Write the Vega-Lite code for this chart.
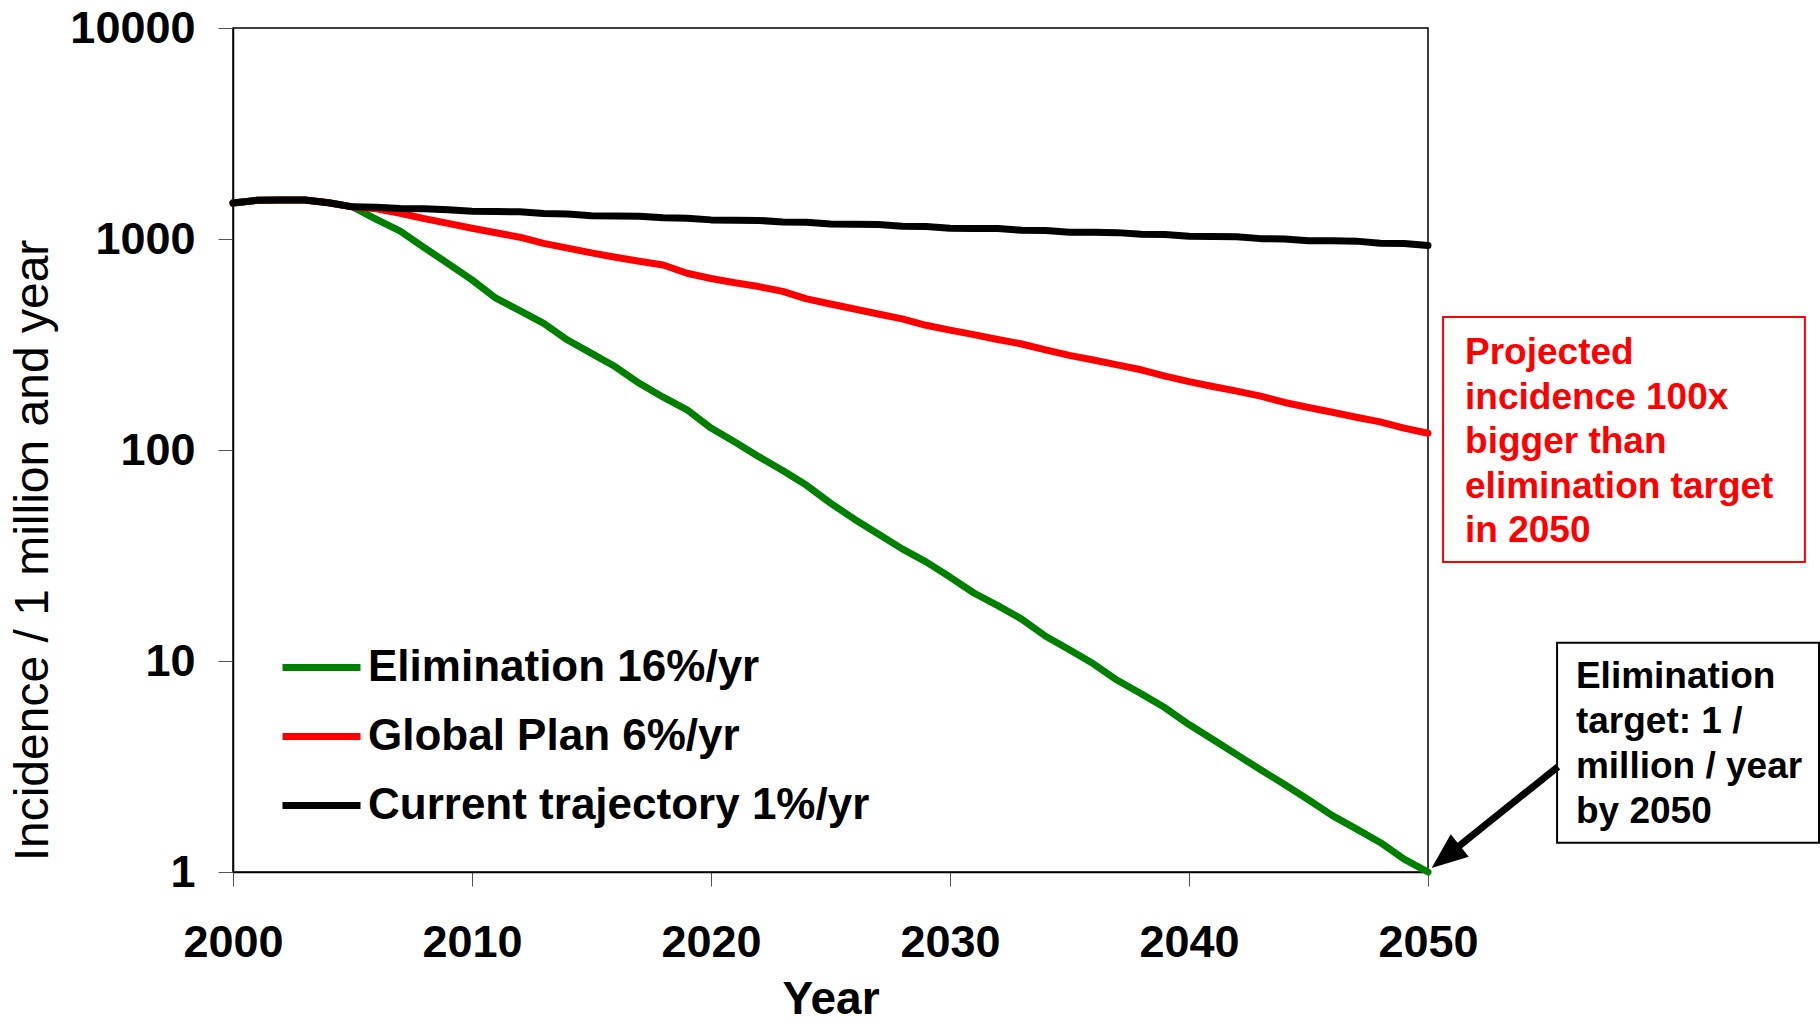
{
  "$schema": "https://vega.github.io/schema/vega-lite/v6.json",
  "width": 1195,
  "height": 844,
  "autosize": {"type": "none"},
  "padding": {"left": 233, "top": 28, "right": 392, "bottom": 151},
  "background": "white",
  "config": {
    "font": "Liberation Sans",
    "view": {"stroke": "black", "strokeWidth": 1.5},
    "axis": {"grid": false, "domainColor": "black", "domainWidth": 1.5, "tickColor": "#555555", "tickWidth": 1, "labelColor": "black", "titleColor": "black", "labelFlush": false, "labelOverlap": false}
  },
  "layer": [
    {
      "data": {
        "values": [
          {"series": "Elimination 16%/yr", "year": 2000, "incidence": 1480},
          {"series": "Elimination 16%/yr", "year": 2001, "incidence": 1525},
          {"series": "Elimination 16%/yr", "year": 2002, "incidence": 1530},
          {"series": "Elimination 16%/yr", "year": 2003, "incidence": 1530},
          {"series": "Elimination 16%/yr", "year": 2004, "incidence": 1485},
          {"series": "Elimination 16%/yr", "year": 2005, "incidence": 1420},
          {"series": "Elimination 16%/yr", "year": 2006, "incidence": 1240},
          {"series": "Elimination 16%/yr", "year": 2007, "incidence": 1090},
          {"series": "Elimination 16%/yr", "year": 2008, "incidence": 910},
          {"series": "Elimination 16%/yr", "year": 2009, "incidence": 765},
          {"series": "Elimination 16%/yr", "year": 2010, "incidence": 640},
          {"series": "Elimination 16%/yr", "year": 2011, "incidence": 524},
          {"series": "Elimination 16%/yr", "year": 2012, "incidence": 458},
          {"series": "Elimination 16%/yr", "year": 2013, "incidence": 398},
          {"series": "Elimination 16%/yr", "year": 2014, "incidence": 332},
          {"series": "Elimination 16%/yr", "year": 2015, "incidence": 287},
          {"series": "Elimination 16%/yr", "year": 2016, "incidence": 248},
          {"series": "Elimination 16%/yr", "year": 2017, "incidence": 207},
          {"series": "Elimination 16%/yr", "year": 2018, "incidence": 178},
          {"series": "Elimination 16%/yr", "year": 2019, "incidence": 155},
          {"series": "Elimination 16%/yr", "year": 2020, "incidence": 127},
          {"series": "Elimination 16%/yr", "year": 2021, "incidence": 109},
          {"series": "Elimination 16%/yr", "year": 2022, "incidence": 93},
          {"series": "Elimination 16%/yr", "year": 2023, "incidence": 80},
          {"series": "Elimination 16%/yr", "year": 2024, "incidence": 68},
          {"series": "Elimination 16%/yr", "year": 2025, "incidence": 56},
          {"series": "Elimination 16%/yr", "year": 2026, "incidence": 47},
          {"series": "Elimination 16%/yr", "year": 2027, "incidence": 40},
          {"series": "Elimination 16%/yr", "year": 2028, "incidence": 34},
          {"series": "Elimination 16%/yr", "year": 2029, "incidence": 29.5},
          {"series": "Elimination 16%/yr", "year": 2030, "incidence": 25},
          {"series": "Elimination 16%/yr", "year": 2031, "incidence": 21},
          {"series": "Elimination 16%/yr", "year": 2032, "incidence": 18.3},
          {"series": "Elimination 16%/yr", "year": 2033, "incidence": 15.8},
          {"series": "Elimination 16%/yr", "year": 2034, "incidence": 13.1},
          {"series": "Elimination 16%/yr", "year": 2035, "incidence": 11.3},
          {"series": "Elimination 16%/yr", "year": 2036, "incidence": 9.7},
          {"series": "Elimination 16%/yr", "year": 2037, "incidence": 8.1},
          {"series": "Elimination 16%/yr", "year": 2038, "incidence": 7.0},
          {"series": "Elimination 16%/yr", "year": 2039, "incidence": 6.0},
          {"series": "Elimination 16%/yr", "year": 2040, "incidence": 5.0},
          {"series": "Elimination 16%/yr", "year": 2041, "incidence": 4.25},
          {"series": "Elimination 16%/yr", "year": 2042, "incidence": 3.6},
          {"series": "Elimination 16%/yr", "year": 2043, "incidence": 3.05},
          {"series": "Elimination 16%/yr", "year": 2044, "incidence": 2.6},
          {"series": "Elimination 16%/yr", "year": 2045, "incidence": 2.2},
          {"series": "Elimination 16%/yr", "year": 2046, "incidence": 1.85},
          {"series": "Elimination 16%/yr", "year": 2047, "incidence": 1.6},
          {"series": "Elimination 16%/yr", "year": 2048, "incidence": 1.38},
          {"series": "Elimination 16%/yr", "year": 2049, "incidence": 1.15},
          {"series": "Elimination 16%/yr", "year": 2050, "incidence": 1.0},
          {"series": "Global Plan 6%/yr", "year": 2000, "incidence": 1480},
          {"series": "Global Plan 6%/yr", "year": 2001, "incidence": 1525},
          {"series": "Global Plan 6%/yr", "year": 2002, "incidence": 1530},
          {"series": "Global Plan 6%/yr", "year": 2003, "incidence": 1530},
          {"series": "Global Plan 6%/yr", "year": 2004, "incidence": 1485},
          {"series": "Global Plan 6%/yr", "year": 2005, "incidence": 1420},
          {"series": "Global Plan 6%/yr", "year": 2006, "incidence": 1390},
          {"series": "Global Plan 6%/yr", "year": 2007, "incidence": 1324},
          {"series": "Global Plan 6%/yr", "year": 2008, "incidence": 1250},
          {"series": "Global Plan 6%/yr", "year": 2009, "incidence": 1185},
          {"series": "Global Plan 6%/yr", "year": 2010, "incidence": 1125},
          {"series": "Global Plan 6%/yr", "year": 2011, "incidence": 1070},
          {"series": "Global Plan 6%/yr", "year": 2012, "incidence": 1020},
          {"series": "Global Plan 6%/yr", "year": 2013, "incidence": 954},
          {"series": "Global Plan 6%/yr", "year": 2014, "incidence": 905},
          {"series": "Global Plan 6%/yr", "year": 2015, "incidence": 860},
          {"series": "Global Plan 6%/yr", "year": 2016, "incidence": 820},
          {"series": "Global Plan 6%/yr", "year": 2017, "incidence": 785},
          {"series": "Global Plan 6%/yr", "year": 2018, "incidence": 753},
          {"series": "Global Plan 6%/yr", "year": 2019, "incidence": 688},
          {"series": "Global Plan 6%/yr", "year": 2020, "incidence": 650},
          {"series": "Global Plan 6%/yr", "year": 2021, "incidence": 620},
          {"series": "Global Plan 6%/yr", "year": 2022, "incidence": 595},
          {"series": "Global Plan 6%/yr", "year": 2023, "incidence": 565},
          {"series": "Global Plan 6%/yr", "year": 2024, "incidence": 520},
          {"series": "Global Plan 6%/yr", "year": 2025, "incidence": 492},
          {"series": "Global Plan 6%/yr", "year": 2026, "incidence": 466},
          {"series": "Global Plan 6%/yr", "year": 2027, "incidence": 441},
          {"series": "Global Plan 6%/yr", "year": 2028, "incidence": 418},
          {"series": "Global Plan 6%/yr", "year": 2029, "incidence": 390},
          {"series": "Global Plan 6%/yr", "year": 2030, "incidence": 370},
          {"series": "Global Plan 6%/yr", "year": 2031, "incidence": 352},
          {"series": "Global Plan 6%/yr", "year": 2032, "incidence": 334},
          {"series": "Global Plan 6%/yr", "year": 2033, "incidence": 318},
          {"series": "Global Plan 6%/yr", "year": 2034, "incidence": 298},
          {"series": "Global Plan 6%/yr", "year": 2035, "incidence": 281},
          {"series": "Global Plan 6%/yr", "year": 2036, "incidence": 267},
          {"series": "Global Plan 6%/yr", "year": 2037, "incidence": 253},
          {"series": "Global Plan 6%/yr", "year": 2038, "incidence": 240},
          {"series": "Global Plan 6%/yr", "year": 2039, "incidence": 224},
          {"series": "Global Plan 6%/yr", "year": 2040, "incidence": 211},
          {"series": "Global Plan 6%/yr", "year": 2041, "incidence": 200},
          {"series": "Global Plan 6%/yr", "year": 2042, "incidence": 190},
          {"series": "Global Plan 6%/yr", "year": 2043, "incidence": 180},
          {"series": "Global Plan 6%/yr", "year": 2044, "incidence": 168},
          {"series": "Global Plan 6%/yr", "year": 2045, "incidence": 159},
          {"series": "Global Plan 6%/yr", "year": 2046, "incidence": 151},
          {"series": "Global Plan 6%/yr", "year": 2047, "incidence": 143},
          {"series": "Global Plan 6%/yr", "year": 2048, "incidence": 136},
          {"series": "Global Plan 6%/yr", "year": 2049, "incidence": 127},
          {"series": "Global Plan 6%/yr", "year": 2050, "incidence": 120},
          {"series": "Current trajectory 1%/yr", "year": 2000, "incidence": 1480},
          {"series": "Current trajectory 1%/yr", "year": 2001, "incidence": 1525},
          {"series": "Current trajectory 1%/yr", "year": 2002, "incidence": 1530},
          {"series": "Current trajectory 1%/yr", "year": 2003, "incidence": 1530},
          {"series": "Current trajectory 1%/yr", "year": 2004, "incidence": 1485},
          {"series": "Current trajectory 1%/yr", "year": 2005, "incidence": 1420},
          {"series": "Current trajectory 1%/yr", "year": 2006, "incidence": 1415},
          {"series": "Current trajectory 1%/yr", "year": 2007, "incidence": 1395},
          {"series": "Current trajectory 1%/yr", "year": 2008, "incidence": 1390},
          {"series": "Current trajectory 1%/yr", "year": 2009, "incidence": 1375},
          {"series": "Current trajectory 1%/yr", "year": 2010, "incidence": 1355},
          {"series": "Current trajectory 1%/yr", "year": 2011, "incidence": 1350},
          {"series": "Current trajectory 1%/yr", "year": 2012, "incidence": 1345},
          {"series": "Current trajectory 1%/yr", "year": 2013, "incidence": 1320},
          {"series": "Current trajectory 1%/yr", "year": 2014, "incidence": 1315},
          {"series": "Current trajectory 1%/yr", "year": 2015, "incidence": 1290},
          {"series": "Current trajectory 1%/yr", "year": 2016, "incidence": 1285},
          {"series": "Current trajectory 1%/yr", "year": 2017, "incidence": 1283},
          {"series": "Current trajectory 1%/yr", "year": 2018, "incidence": 1260},
          {"series": "Current trajectory 1%/yr", "year": 2019, "incidence": 1255},
          {"series": "Current trajectory 1%/yr", "year": 2020, "incidence": 1232},
          {"series": "Current trajectory 1%/yr", "year": 2021, "incidence": 1228},
          {"series": "Current trajectory 1%/yr", "year": 2022, "incidence": 1225},
          {"series": "Current trajectory 1%/yr", "year": 2023, "incidence": 1203},
          {"series": "Current trajectory 1%/yr", "year": 2024, "incidence": 1200},
          {"series": "Current trajectory 1%/yr", "year": 2025, "incidence": 1178},
          {"series": "Current trajectory 1%/yr", "year": 2026, "incidence": 1175},
          {"series": "Current trajectory 1%/yr", "year": 2027, "incidence": 1172},
          {"series": "Current trajectory 1%/yr", "year": 2028, "incidence": 1150},
          {"series": "Current trajectory 1%/yr", "year": 2029, "incidence": 1147},
          {"series": "Current trajectory 1%/yr", "year": 2030, "incidence": 1125},
          {"series": "Current trajectory 1%/yr", "year": 2031, "incidence": 1122},
          {"series": "Current trajectory 1%/yr", "year": 2032, "incidence": 1120},
          {"series": "Current trajectory 1%/yr", "year": 2033, "incidence": 1100},
          {"series": "Current trajectory 1%/yr", "year": 2034, "incidence": 1097},
          {"series": "Current trajectory 1%/yr", "year": 2035, "incidence": 1077},
          {"series": "Current trajectory 1%/yr", "year": 2036, "incidence": 1075},
          {"series": "Current trajectory 1%/yr", "year": 2037, "incidence": 1072},
          {"series": "Current trajectory 1%/yr", "year": 2038, "incidence": 1052},
          {"series": "Current trajectory 1%/yr", "year": 2039, "incidence": 1050},
          {"series": "Current trajectory 1%/yr", "year": 2040, "incidence": 1030},
          {"series": "Current trajectory 1%/yr", "year": 2041, "incidence": 1027},
          {"series": "Current trajectory 1%/yr", "year": 2042, "incidence": 1024},
          {"series": "Current trajectory 1%/yr", "year": 2043, "incidence": 1004},
          {"series": "Current trajectory 1%/yr", "year": 2044, "incidence": 1001},
          {"series": "Current trajectory 1%/yr", "year": 2045, "incidence": 982},
          {"series": "Current trajectory 1%/yr", "year": 2046, "incidence": 980},
          {"series": "Current trajectory 1%/yr", "year": 2047, "incidence": 977},
          {"series": "Current trajectory 1%/yr", "year": 2048, "incidence": 955},
          {"series": "Current trajectory 1%/yr", "year": 2049, "incidence": 952},
          {"series": "Current trajectory 1%/yr", "year": 2050, "incidence": 932}
        ]
      },
      "mark": {"type": "line", "strokeWidth": 7, "strokeCap": "round", "strokeJoin": "round"},
      "encoding": {
        "x": {
          "field": "year", "type": "quantitative",
          "scale": {"domain": [2000, 2050], "nice": false, "zero": false},
          "axis": {
            "values": [2000, 2010, 2020, 2030, 2040, 2050], "format": "d",
            "title": "Year", "labelFontSize": 45, "labelFontWeight": "bold",
            "labelPadding": 34, "tickSize": 14,
            "titleFontSize": 46, "titleFontWeight": "bold",
            "titleX": 597.5, "titleY": 141, "titleAlign": "center", "titleBaseline": "alphabetic"
          }
        },
        "y": {
          "field": "incidence", "type": "quantitative",
          "scale": {"type": "log", "domain": [1, 10000], "nice": false},
          "axis": {
            "values": [1, 10, 100, 1000, 10000], "format": "d",
            "title": "Incidence / 1 million and year", "labelFontSize": 45, "labelFontWeight": "bold",
            "labelPadding": 23, "tickSize": 15,
            "titleFontSize": 48, "titleFontWeight": "normal", "titleAngle": -90,
            "titleX": -186, "titleY": 522, "titleAlign": "center", "titleBaseline": "alphabetic"
          }
        },
        "color": {
          "field": "series", "type": "nominal",
          "scale": {
            "domain": ["Elimination 16%/yr", "Global Plan 6%/yr", "Current trajectory 1%/yr"],
            "range": ["#008000", "#FF0000", "#000000"]
          },
          "legend": {
            "orient": "none", "legendX": 46, "legendY": 597, "title": null, "padding": 0,
            "symbolType": "stroke", "symbolSize": 6084, "symbolStrokeWidth": 7,
            "labelFontSize": 44, "labelFontWeight": "bold", "labelColor": "black",
            "labelLimit": 1000, "labelOffset": 4, "rowPadding": 4
          }
        }
      }
    },
    {
      "data": {"values": [{"year": 2050.63, "year2": 2065.77, "incidence": 426.9, "incidence2": 29.45}]},
      "mark": {"type": "rect", "fill": null, "stroke": "#FF0000", "strokeWidth": 2},
      "encoding": {
        "x": {"field": "year", "type": "quantitative"},
        "x2": {"field": "year2"},
        "y": {"field": "incidence", "type": "quantitative"},
        "y2": {"field": "incidence2"}
      }
    },
    {
      "data": {"values": [{"year": 2055.40, "year2": 2066.36, "incidence": 12.21, "incidence2": 1.377}]},
      "mark": {"type": "rect", "fill": "white", "stroke": "black", "strokeWidth": 2},
      "encoding": {
        "x": {"field": "year", "type": "quantitative"},
        "x2": {"field": "year2"},
        "y": {"field": "incidence", "type": "quantitative"},
        "y2": {"field": "incidence2"}
      }
    },
    {
      "data": {"values": [{"year": 2051.55, "incidence": 255.6, "note": "Projected\nincidence 100x\nbigger than\nelimination target\nin 2050"}]},
      "mark": {"type": "text", "align": "left", "baseline": "alphabetic", "fontSize": 37, "fontWeight": "bold", "color": "#FF0000", "lineHeight": 44.5, "lineBreak": "\n"},
      "encoding": {
        "x": {"field": "year", "type": "quantitative"},
        "y": {"field": "incidence", "type": "quantitative"},
        "text": {"field": "note"}
      }
    },
    {
      "data": {"values": [{"year": 2056.19, "incidence": 7.42, "note": "Elimination\ntarget: 1 /\nmillion / year\nby 2050"}]},
      "mark": {"type": "text", "align": "left", "baseline": "alphabetic", "fontSize": 37, "fontWeight": "bold", "color": "black", "lineHeight": 44.8, "lineBreak": "\n"},
      "encoding": {
        "x": {"field": "year", "type": "quantitative"},
        "y": {"field": "incidence", "type": "quantitative"},
        "text": {"field": "note"}
      }
    },
    {
      "data": {"values": [{"year": 2055.44, "incidence": 3.157, "year2": 2050.74, "incidence2": 1.182}]},
      "mark": {"type": "rule", "color": "black", "strokeWidth": 7},
      "encoding": {
        "x": {"field": "year", "type": "quantitative"},
        "x2": {"field": "year2"},
        "y": {"field": "incidence", "type": "quantitative"},
        "y2": {"field": "incidence2"}
      }
    },
    {
      "data": {"values": [{"year": 2050.74, "incidence": 1.182}]},
      "mark": {"type": "point", "shape": "M0,-1L0.8,1L-0.8,1Z", "size": 1296, "angle": 231.3, "filled": true, "color": "black", "opacity": 1, "strokeWidth": 0},
      "encoding": {
        "x": {"field": "year", "type": "quantitative"},
        "y": {"field": "incidence", "type": "quantitative"}
      }
    }
  ]
}
